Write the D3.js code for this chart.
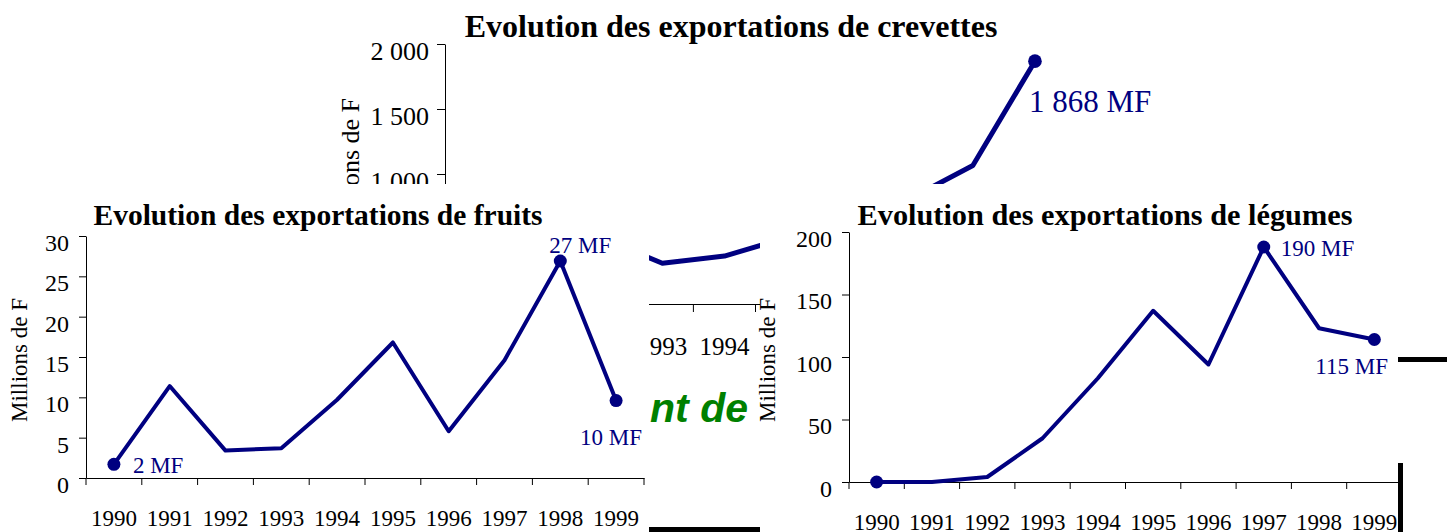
<!DOCTYPE html>
<html><head><meta charset="utf-8">
<script src="https://cdn.jsdelivr.net/npm/d3@7"></script>
<style>
body{margin:0;background:#fff;overflow:hidden;}
svg{display:block;}
</style></head><body>
<svg id="c" width="1447" height="532"></svg>
<script>
// ---------- DATA ----------
const years = ["1990","1991","1992","1993","1994","1995","1996","1997","1998","1999"];
const crevettesValues = [420, 470, 512, 313, 369, 509, 620, 814, 1065, 1868];
const fruitsValues = [1.7, 11.4, 3.4, 3.7, 9.7, 16.8, 5.8, 14.6, 26.9, 9.6];
const legumesValues = [0, 0, 4, 35, 83, 137, 94, 188, 123, 114];
const crevettesTicks = [0, 500, 1000, 1500, 2000];
const fruitsTicks = [0, 5, 10, 15, 20, 25, 30];
const legumesTicks = [0, 50, 100, 150, 200];
const crevettesMarkers = ["1990", "1999"];
const fruitsMarkers = ["1990", "1998", "1999"];
const legumesMarkers = ["1990", "1997", "1999"];
const crevettesLabels = [["1999", "1 868 MF"]];
const fruitsLabels = [["1990", "2 MF"], ["1998", "27 MF"], ["1999", "10 MF"]];
const legumesLabels = [["1997", "190 MF"], ["1999", "115 MF"]];
const titles = {
  crevettes: "Evolution des exportations de crevettes",
  fruits: "Evolution des exportations de fruits",
  legumes: "Evolution des exportations de légumes"
};
const yAxisTitle = "Millions de F";
const hiddenText = "nt de";

// ---------- DRAWING ----------
const SERIF = '"Liberation Serif","Times New Roman",Times,serif';
const SANS = '"Liberation Sans",Arial,Helvetica,sans-serif';
const svg = d3.select("#c");
const NAVY = "#000080";
const fr = d3.formatLocale({decimal: ",", thousands: " ", grouping: [3], currency: ["", " F"]});
const fmt = fr.format(",d");

function drawChart(g, cfg) {
  if (cfg.bg) g.append("rect").attr("x", cfg.bg[0]).attr("y", cfg.bg[1])
      .attr("width", cfg.bg[2]).attr("height", cfg.bg[3]).attr("fill", "#fff");
  const x = d3.scaleBand().domain(years).range(cfg.xr).paddingInner(0).paddingOuter(0);
  const y = d3.scaleLinear().domain(cfg.yd).range(cfg.yr);
  const bw = x.bandwidth();
  const cx = d => x(d) + bw / 2;

  g.append("text").attr("x", cfg.titleX).attr("y", cfg.titleY).attr("text-anchor", "middle")
    .style("font-family", SERIF).style("font-weight", "bold").style("font-size", cfg.titleSize + "px")
    .attr("fill", "#000").text(cfg.title);

  const ya = g.append("g").attr("transform", `translate(${cfg.xr[0]},0)`)
    .call(d3.axisLeft(y).tickValues(cfg.ticks).tickFormat(fmt).tickSize(cfg.tick).tickSizeOuter(0).tickPadding(cfg.tickPad));
  ya.select(".domain").attr("stroke", "#000");
  ya.selectAll(".tick line").attr("stroke", "#000");
  ya.selectAll("text").style("font-size", cfg.tickFont + "px").style("font-family", SERIF)
    .attr("dy", "0.6em").attr("fill", "#000");

  g.append("text").attr("transform", `translate(${cfg.yTitleX},${cfg.yTitleY}) rotate(-90)`)
    .attr("text-anchor", "middle").style("font-family", SERIF).style("font-size", cfg.yTitleSize + "px")
    .attr("fill", "#000").text(yAxisTitle);

  const y0 = y(0);
  const xa = g.append("g").attr("transform", `translate(0,${y0})`)
    .call(d3.axisBottom(x).tickSize(0).tickSizeOuter(0).tickPadding(0));
  xa.select(".domain").attr("stroke", "#000");
  xa.selectAll("text").style("font-size", cfg.xFont + "px").style("font-family", SERIF)
    .attr("y", cfg.xLabOff).attr("dy", 0).attr("fill", "#000");
  const bounds = years.map(d => x(d)).concat([x(years[years.length - 1]) + bw]);
  g.append("g").selectAll("line").data(bounds).join("line")
    .attr("x1", d => d).attr("x2", d => d).attr("y1", y0).attr("y2", y0 + cfg.tick)
    .attr("stroke", "#000").attr("stroke-width", 1);

  const line = d3.line().x((d, i) => cx(years[i])).y(d => y(d));
  g.append("path").datum(cfg.values).attr("d", line).attr("fill", "none")
    .attr("stroke", NAVY).attr("stroke-width", cfg.lw).attr("stroke-linejoin", "round");

  g.append("g").selectAll("circle").data(cfg.markers).join("circle")
    .attr("cx", d => cx(d)).attr("cy", d => y(cfg.values[years.indexOf(d)]))
    .attr("r", cfg.r).attr("fill", NAVY);

  g.append("g").selectAll("text").data(cfg.labels).join("text")
    .attr("x", (d, i) => cx(d[0]) + cfg.labelOff[i][0])
    .attr("y", (d, i) => y(cfg.values[years.indexOf(d[0])]) + cfg.labelOff[i][1])
    .style("font-family", SERIF).style("font-size", cfg.labelFont + "px").attr("fill", NAVY).text(d => d[1]);
}

const fruitsBg = [0, 184, 649, 348];
const legumesBg = [760, 184, 638, 348];

// background layer: crevettes chart + stray elements
const back = svg.append("g");
drawChart(back, {
  title: titles.crevettes, titleX: 731, titleY: 37, titleSize: 32,
  xr: [445, 1066], yd: [0, 2000], yr: [304, 44], ticks: crevettesTicks,
  tick: 8, tickPad: 8, tickFont: 26, yTitleX: 359, yTitleY: 168, yTitleSize: 26,
  xFont: 25, xLabOff: 51, values: crevettesValues, markers: crevettesMarkers,
  labels: crevettesLabels, labelOff: [[-6, 51]], labelFont: 31, lw: 5, r: 6.8
});
svg.append("defs").append("clipPath").attr("id", "gap")
  .append("rect").attr("x", 649).attr("y", 184).attr("width", 111).attr("height", 348);
back.append("text").attr("x", 748).attr("y", 422).attr("text-anchor", "end")
  .attr("clip-path", "url(#gap)")
  .style("font-family", SANS).style("font-weight", "bold").style("font-style", "italic")
  .style("font-size", "41px").attr("fill", "#008000").text(hiddenText);
back.append("rect").attr("x", 560).attr("y", 527).attr("width", 300).attr("height", 6).attr("fill", "#000");
back.append("rect").attr("x", 1390).attr("y", 357).attr("width", 60).attr("height", 5).attr("fill", "#000");
back.append("rect").attr("x", 1398).attr("y", 463).attr("width", 5).attr("height", 70).attr("fill", "#000");

// drop background texts that are fully hidden under the two front charts
const covers = [fruitsBg, legumesBg];
back.selectAll("text").each(function () {
  const r = this.getBoundingClientRect();
  const hidden = covers.some(c => r.left >= c[0] && r.right <= c[0] + c[2] && r.top >= c[1] && r.bottom <= c[1] + c[3]);
  if (hidden) d3.select(this).remove();
});

drawChart(svg.append("g"), {
  bg: fruitsBg,
  title: titles.fruits, titleX: 318, titleY: 225, titleSize: 29.5,
  xr: [86, 644], yd: [0, 30], yr: [478, 236], ticks: fruitsTicks,
  tick: 7, tickPad: 10, tickFont: 24, yTitleX: 27, yTitleY: 360, yTitleSize: 23,
  xFont: 23, xLabOff: 48, values: fruitsValues, markers: fruitsMarkers,
  labels: fruitsLabels, labelOff: [[19, 9], [-11, -8], [-36, 44]], labelFont: 23, lw: 4, r: 6.5
});

drawChart(svg.append("g"), {
  bg: legumesBg,
  title: titles.legumes, titleX: 1105, titleY: 225, titleSize: 30.3,
  xr: [849, 1402], yd: [0, 200], yr: [482, 232], ticks: legumesTicks,
  tick: 7, tickPad: 10, tickFont: 24, yTitleX: 775, yTitleY: 360, yTitleSize: 23,
  xFont: 23, xLabOff: 48, values: legumesValues, markers: legumesMarkers,
  labels: legumesLabels, labelOff: [[17, 9], [-59, 34]], labelFont: 23, lw: 4, r: 6.5
});
</script>
</body></html>
